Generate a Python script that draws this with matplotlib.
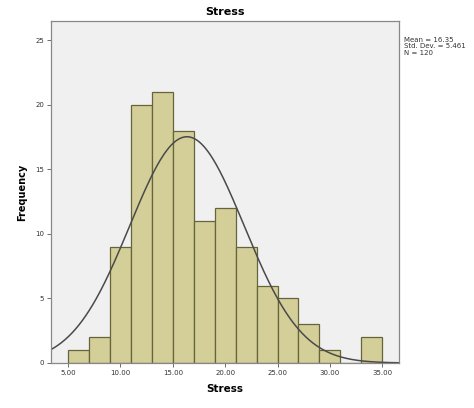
import numpy as np
import matplotlib
matplotlib.use("Agg")
import matplotlib.pyplot as plt

# histogram bins (width 2) and counts
BIN_EDGES = [5, 7, 9, 11, 13, 15, 17, 19, 21, 23, 25, 27, 29, 31, 33, 35]
COUNTS = [1, 2, 9, 20, 21, 18, 11, 12, 9, 6, 5, 3, 1, 0, 2]
MEAN, SD, N = 16.35, 5.461, 120
XTICKS = [5, 10, 15, 20, 25, 30, 35]
YTICKS = [0, 5, 10, 15, 20, 25]

fig = plt.figure(figsize=(4.74, 4.08), dpi=100)
ax = fig.add_axes([0.1076, 0.1103, 0.7342, 0.8382])
ax.set_facecolor("#f0f0f0")

widths = np.diff(BIN_EDGES)
ax.bar(BIN_EDGES[:-1], COUNTS, width=widths, align="edge",
       color="#d4cf98", edgecolor="#66643a", linewidth=0.9)

# fitted normal curve scaled to counts
bw = BIN_EDGES[1] - BIN_EDGES[0]
xs = np.linspace(3.37, 36.6, 300)
ys = N * bw / (SD * np.sqrt(2 * np.pi)) * np.exp(-0.5 * ((xs - MEAN) / SD) ** 2)
ax.plot(xs, ys, color="#4a4a4a", linewidth=1.1)

ax.set_xlim(3.37, 36.6)
ax.set_ylim(0, 26.5)
ax.set_xticks(XTICKS)
ax.set_xticklabels([f"{t:.2f}" for t in XTICKS])
ax.set_yticks(YTICKS)
ax.tick_params(axis="both", labelsize=5, length=3, width=0.6,
               color="#555555", labelcolor="#333333", pad=2)
for s in ax.spines.values():
    s.set_color("#888888")
    s.set_linewidth(0.9)

ax.set_title("Stress", fontsize=8, fontweight="bold", pad=4)
ax.set_xlabel("Stress", fontsize=7.5, fontweight="bold", labelpad=6)
ax.set_ylabel("Frequency", fontsize=7, fontweight="bold", labelpad=6)

fig.text(0.852, 0.91, f"Mean = {MEAN:.2f}\nStd. Dev. = {SD:.3f}\nN = {N}",
         fontsize=5, va="top", ha="left", color="#333333", linespacing=1.15)

fig.savefig("out.png", dpi=100, facecolor="white")
